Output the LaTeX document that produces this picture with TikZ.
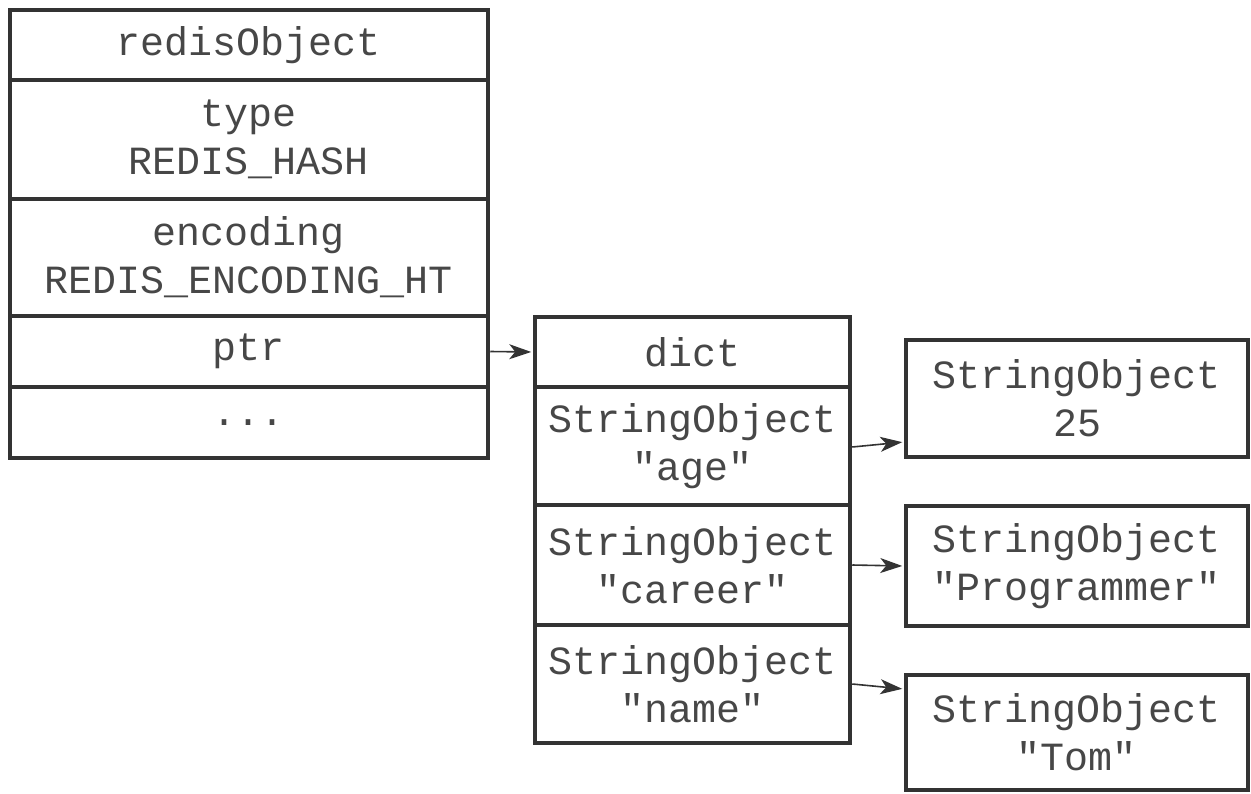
\documentclass[tikz,border=0pt]{standalone}
\usepackage{fontspec}
\newfontfamily\monof{Liberation Mono}
\usetikzlibrary{arrows.meta}
\definecolor{linec}{HTML}{333333}
\definecolor{textc}{HTML}{474747}
\begin{document}
\begin{tikzpicture}[x=1pt,y=-1pt,
  cell/.style={draw=linec, line width=4.5pt, rectangle, inner sep=0pt, align=center,
    text=textc, font=\monof\fontsize{40}{48}\selectfont},
  lcell/.style={cell, minimum width=478pt},
  dcell/.style={cell, minimum width=315pt},
  scell/.style={cell, minimum width=342pt},
  link/.style={draw=linec, line width=1.6pt, arrows={-Stealth[length=22pt,width=15pt,inset=6pt]}, shorten >=1.5pt}
]
\useasboundingbox (0,0) rectangle (1251,793);
% left redisObject
\node[lcell, minimum height=70pt]  (r0) at (249,45)    {redisObject};
\node[lcell, minimum height=119pt] (r1) at (249,139.5) {type\\REDIS\_HASH};
\node[lcell, minimum height=117pt] (r2) at (249,257.5) {encoding\\REDIS\_ENCODING\_HT};
\node[lcell, minimum height=71pt]  (r3) at (249,351.5) {ptr};
\node[lcell, minimum height=71pt]  (r4) at (249,422.5) {...};
% dict
\node[dcell, minimum height=70pt]  (d0) at (692.5,352) {dict};
\node[dcell, minimum height=118pt] (d1) at (692.5,446) {StringObject\\"age"};
\node[dcell, minimum height=120pt] (d2) at (692.5,565) {StringObject\\"career"};
\node[dcell, minimum height=118pt] (d3) at (692.5,684) {StringObject\\"name"};
% string objects
\node[scell, minimum height=117pt] (s1) at (1077,398.5) {StringObject\\25};
\node[scell, minimum height=120pt] (s2) at (1077,566)   {StringObject\\"Programmer"};
\node[scell, minimum height=115pt] (s3) at (1077,732.5) {StringObject\\"Tom"};
% links
\draw[link] (r3.east) -- (d0.west);
\draw[link] ([yshift=-1pt]d1.east) -- ([yshift=-43.5pt]s1.west);
\draw[link] (d2.east) -- (s2.west);
\draw[link] (d3.east) -- ([yshift=43.5pt]s3.west);
\end{tikzpicture}
\end{document}
